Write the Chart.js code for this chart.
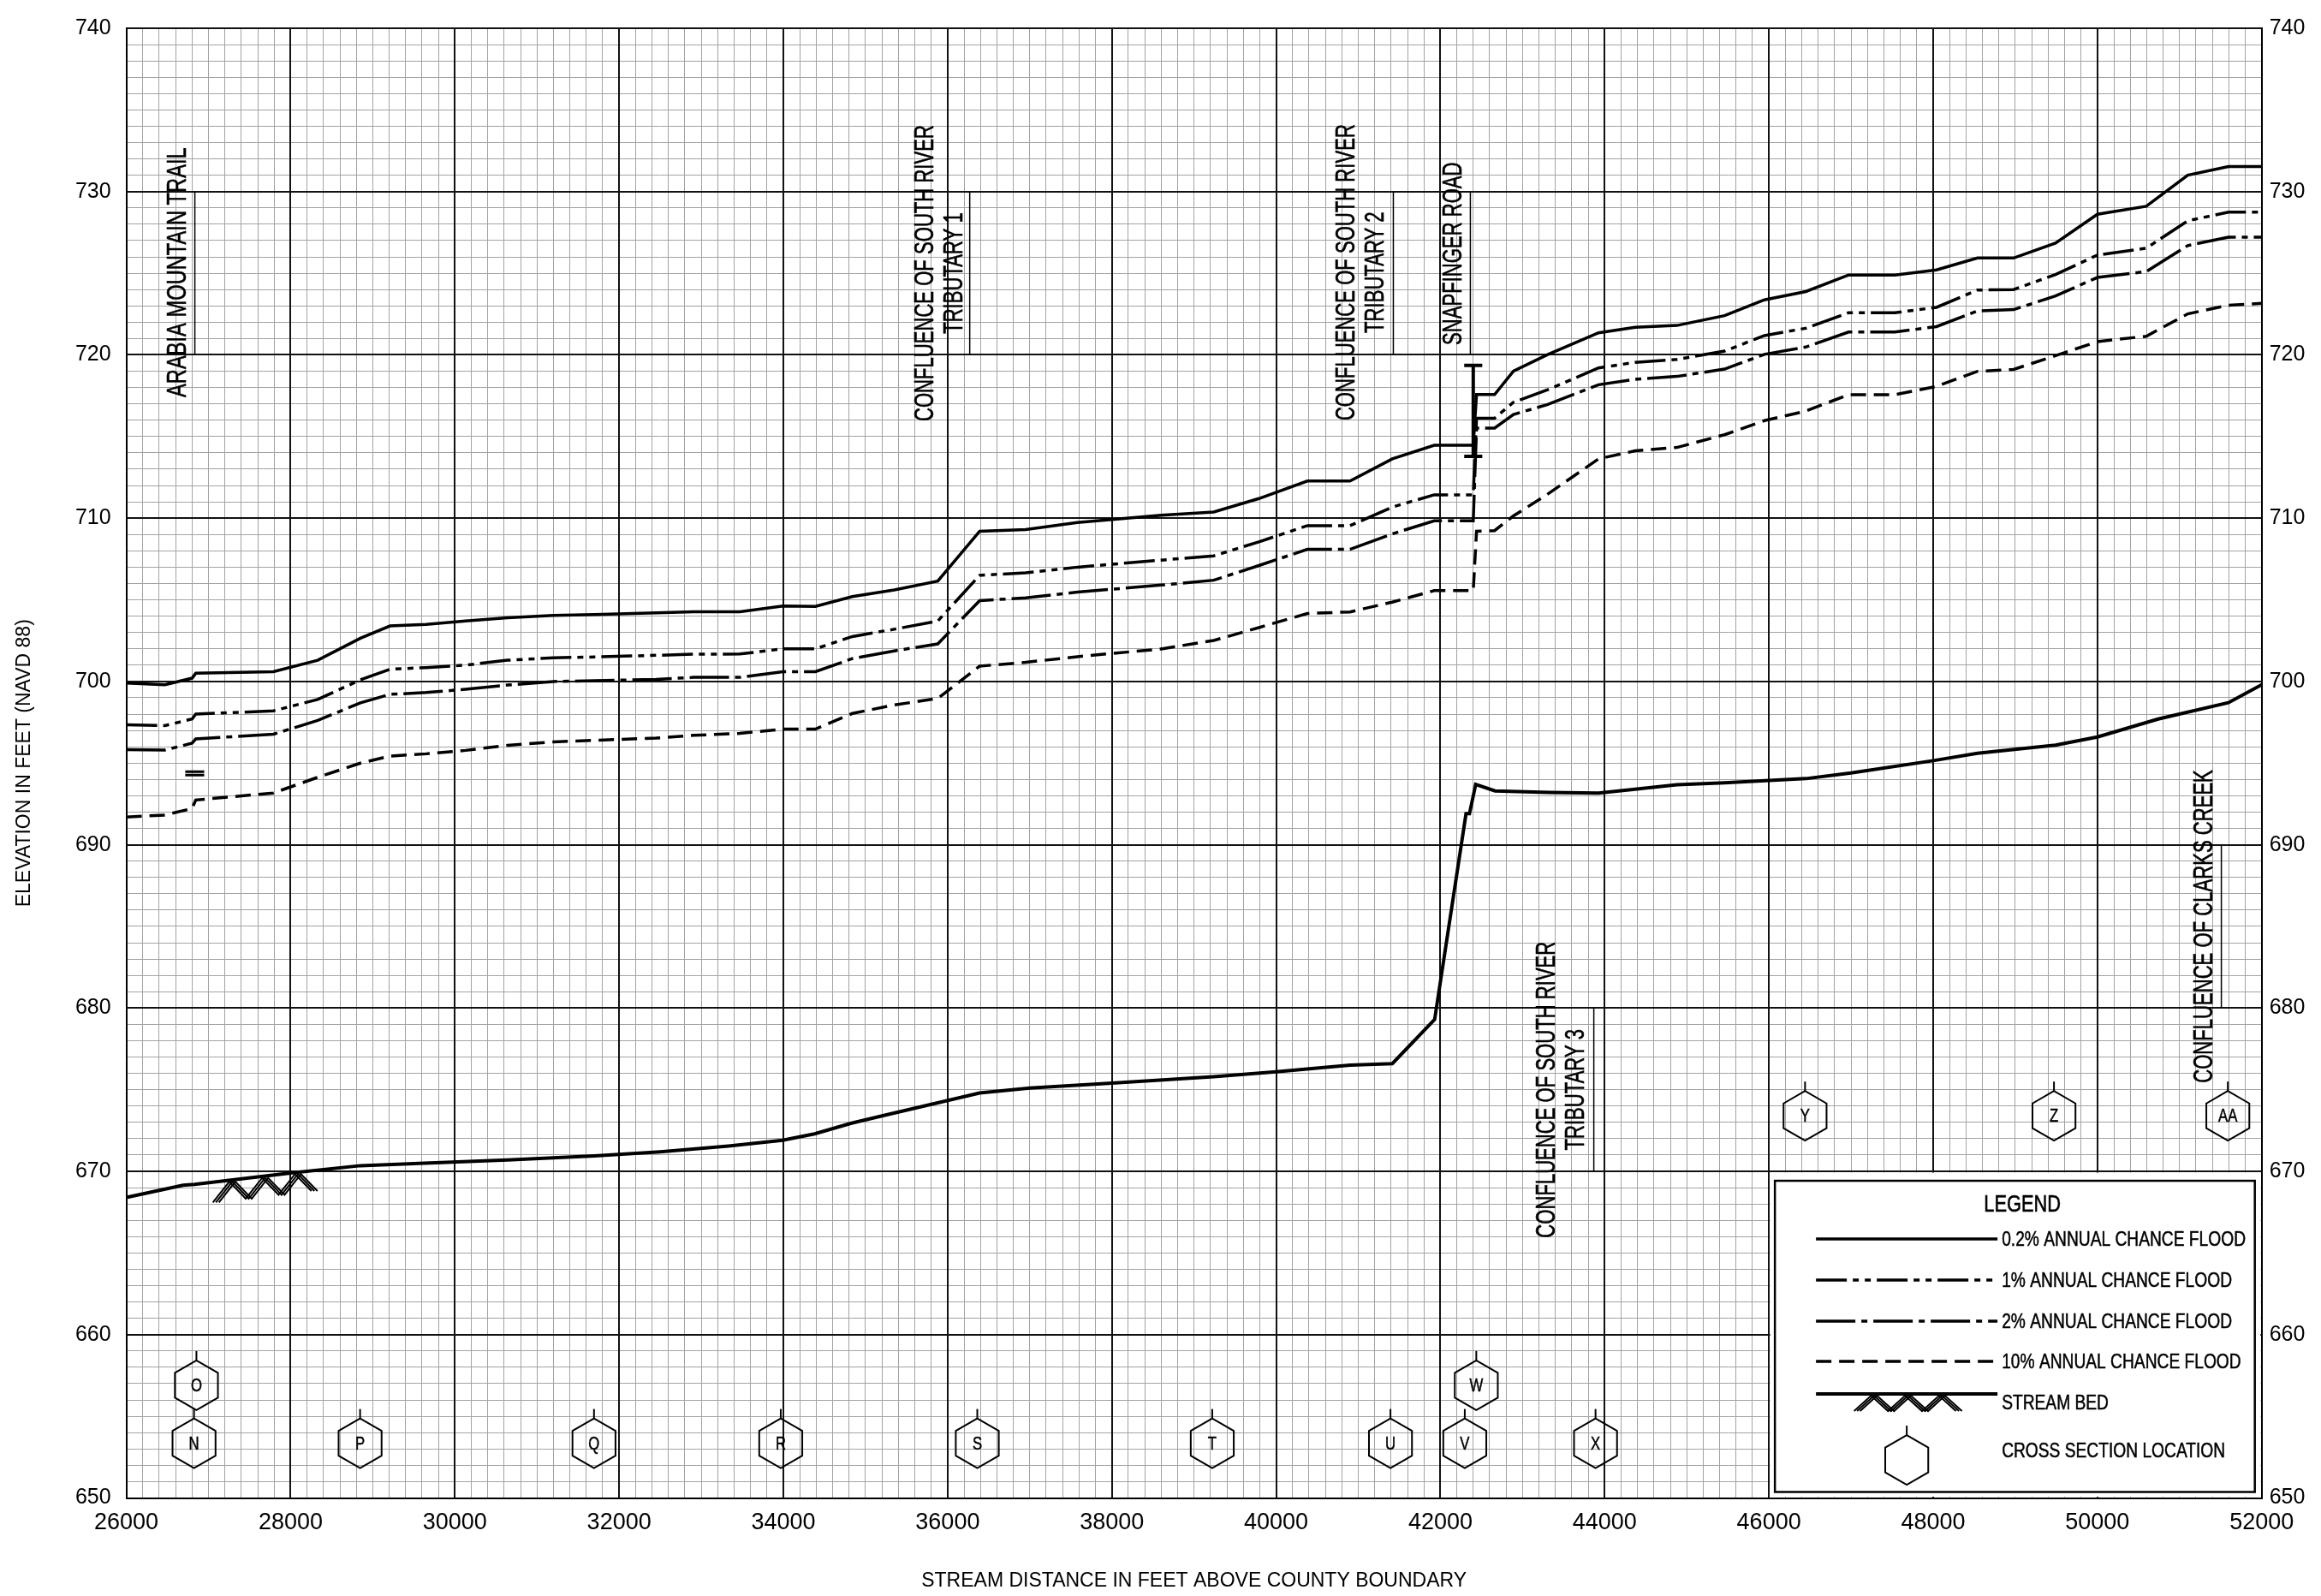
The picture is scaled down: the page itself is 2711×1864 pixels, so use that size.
<!DOCTYPE html>
<html>
<head>
<meta charset="utf-8">
<script src="https://cdn.jsdelivr.net/npm/chart.js@4.4.1/dist/chart.umd.min.js"></script>
<style>
  html, body { margin: 0; padding: 0; background: #fff; }
</style>
</head>
<body>
<canvas id="profile" width="2711" height="1864"></canvas>
<script>
// ---------------------------------
// Profile data (stream distance ft / elevation ft)
// ---------------------------------
const floodStations = [26000, 26470, 26800, 26845, 27790, 28330, 28850, 29210, 29650, 30130,
  30640, 31200, 31700, 32450, 32910, 33470, 33995, 34390, 34840, 35350,
  35880, 36390, 36950, 37580, 38600, 39240, 39790, 40380, 40900, 41415,
  41925, 42400, 42440, 42660, 42890, 43300, 43925, 44370, 44880, 45460,
  45945, 46450, 46970, 47535, 48040, 48540, 48980, 49490, 50000, 50595,
  51100, 51595, 52000];
const flood02 = [699.9, 699.8, 700.2, 700.5, 700.6, 701.3, 702.65, 703.4, 703.5, 703.7,
  703.9, 704.05, 704.1, 704.2, 704.27, 704.27, 704.62, 704.6, 705.2, 705.6,
  706.15, 709.2, 709.3, 709.73, 710.18, 710.38, 711.2, 712.27, 712.27, 713.63,
  714.46, 714.46, 717.57, 717.57, 719.0, 720.0, 721.35, 721.69, 721.8, 722.4,
  723.37, 723.88, 724.89, 724.89, 725.2, 725.93, 725.93, 726.84, 728.61, 729.1,
  731.0, 731.53, 731.53];
const flood1 = [697.35, 697.3, 697.7, 698.0, 698.2, 698.9, 700.1, 700.75, 700.85, 701.0,
  701.3, 701.45, 701.5, 701.6, 701.67, 701.68, 702.0, 702.0, 702.75, 703.2,
  703.7, 706.5, 706.65, 707.0, 707.43, 707.69, 708.55, 709.54, 709.54, 710.68,
  711.43, 711.43, 716.12, 716.12, 717.1, 717.85, 719.2, 719.54, 719.72, 720.23,
  721.18, 721.63, 722.58, 722.58, 722.91, 723.97, 724.0, 724.92, 726.11, 726.53,
  728.21, 728.74, 728.74];
const flood2 = [695.82, 695.8, 696.22, 696.48, 696.77, 697.61, 698.69, 699.21, 699.32, 699.52,
  699.78, 700.0, 700.05, 700.13, 700.25, 700.25, 700.6, 700.6, 701.4, 701.87,
  702.3, 704.95, 705.12, 705.47, 705.9, 706.2, 707.1, 708.09, 708.09, 709.04,
  709.84, 709.84, 715.52, 715.52, 716.35, 716.95, 718.17, 718.5, 718.68, 719.13,
  720.03, 720.48, 721.4, 721.4, 721.73, 722.69, 722.77, 723.61, 724.74, 725.1,
  726.69, 727.21, 727.21];
const flood10 = [691.7, 691.82, 692.22, 692.74, 693.17, 694.13, 695.0, 695.43, 695.57, 695.78,
  696.09, 696.3, 696.4, 696.53, 696.7, 696.82, 697.08, 697.08, 698.04, 698.56,
  698.96, 700.94, 701.17, 701.52, 701.99, 702.51, 703.3, 704.16, 704.26, 704.86,
  705.56, 705.56, 709.2, 709.24, 710.14, 711.45, 713.63, 714.12, 714.33, 715.11,
  715.97, 716.56, 717.56, 717.56, 718.07, 718.99, 719.11, 719.95, 720.81, 721.14,
  722.51, 723.04, 723.15];

const bedStations = [26000, 26690, 26830, 28000, 28850, 29630, 30640, 31700, 32500, 33330,
  33990, 34380, 34830, 35290, 36390, 37000, 38000, 39240, 40000, 40900,
  41415, 41930, 42312, 42354, 42430, 42665, 43324, 43925, 44370, 44880,
  45460, 46450, 47000, 48000, 48540, 49490, 50000, 50740, 51595, 52000];
const bedElev = [668.4, 669.15, 669.2, 669.9, 670.35, 670.5, 670.7, 670.95, 671.2, 671.55,
  671.9, 672.3, 672.95, 673.5, 674.8, 675.1, 675.4, 675.8, 676.1, 676.5,
  676.6, 679.3, 691.9, 691.9, 693.7, 693.3, 693.2, 693.17, 693.4, 693.67,
  693.8, 694.05, 694.4, 695.15, 695.6, 696.1, 696.6, 697.7, 698.7, 699.8];

// Snapfinger Road deck (top of road / low chord), null = pen up
const bridgeStations = [42290, 42510, 42510, 42400, 42400, 42400, 42290, 42510];
const bridgeElev = [719.36, 719.36, null, 719.36, 713.78, null, 713.78, 713.78];
// small structure mark near Arabia Mountain Trail
const trailStations = [26717, 26948, 26948, 26717, 26948];
const trailElev = [694.47, 694.47, null, 694.26, 694.26];

// location brackets for the labelled features
const markerStations = [26834, 36269, 41427, 42365, 43868, 51509];
const markerLow = [720, 720, 720, 720, 670, 680];
const markerHigh = [730, 730, 730, 730, 680, 690];

const placeLabels = [
  { lines: ['ARABIA MOUNTAIN TRAIL'], station: 26628, elev: 725.05, squeeze: 0.74 },
  { lines: ['CONFLUENCE OF SOUTH RIVER', 'TRIBUTARY 1'], station: 35910, elev: 725.0 },
  { lines: ['CONFLUENCE OF SOUTH RIVER', 'TRIBUTARY 2'], station: 41036, elev: 725.05 },
  { lines: ['SNAPFINGER ROAD'], station: 42161, elev: 726.2 },
  { lines: ['CONFLUENCE OF SOUTH RIVER', 'TRIBUTARY 3'], station: 43474, elev: 675.0 },
  { lines: ['CONFLUENCE OF CLARKS CREEK'], station: 51302, elev: 685.0 },
];

// cross section symbols
const xsLetters = ['N', 'O', 'P', 'Q', 'R', 'S', 'T', 'U', 'V', 'W', 'X', 'Y', 'Z', 'AA'];
const xsStations = [26824, 26853, 28846, 31694, 33968, 36361, 39222, 41392, 42297, 42437, 43889, 46440, 49471, 51588];
const xsElev = [653.35, 656.9, 653.35, 653.35, 653.35, 653.35, 653.35, 653.35, 653.35, 656.9, 653.35, 673.4, 673.4, 673.4];

// axis ranges
const xMin = 26000, xMax = 52000, xMajor = 2000, xMinor = 200;
const yMin = 650, yMax = 740, yMajor = 10, yMinor = 1;

// -------------------------------
// Helpers -----------------------
// -------------------------------
const pts = (xs, ys) => xs.map((x, i) => ({ x: x, y: ys[i] }));
const TICK_FONT = '"Liberation Sans", Arial, sans-serif';
const dash1 = [36, 7, 7, 7, 7, 7];
const dash2 = [46, 7, 7, 7];
const dash10 = [18, 9];

function lineSet(label, data, width, dash) {
  return {
    label: label,
    data: data,
    borderColor: "#000",
    borderWidth: width,
    borderDash: dash || [],
    pointRadius: 0,
    fill: false,
    tension: 0,
    spanGaps: false,
  };
}

// condensed-looking text: squeeze the glyphs horizontally, add a hairline for weight
function drawSqueezed(ctx, text, x, y, size, squeeze, vertical, weight) {
  ctx.save();
  ctx.translate(x, y);
  if (vertical) ctx.rotate(-Math.PI / 2);
  ctx.scale(squeeze, 1);
  ctx.font = size + 'px "Liberation Sans", Arial, sans-serif';
  ctx.fillText(text, 0, 0);
  if (weight) {
    ctx.lineWidth = weight;
    ctx.strokeText(text, 0, 0);
  }
  ctx.restore();
}

function hexagon(ctx, cx, cy, r) {
  ctx.beginPath();
  for (let i = 0; i < 6; i++) {
    const a = Math.PI / 2 + i * Math.PI / 3;
    ctx.lineTo(cx + r * Math.cos(a), cy - r * Math.sin(a));
  }
  ctx.closePath();
  ctx.stroke();
  ctx.beginPath();
  ctx.moveTo(cx, cy - r);
  ctx.lineTo(cx, cy - r - 11);
  ctx.stroke();
}

// stream bed hatch: three chevrons, each drawn with three parallel strokes
function zigzag(ctx, x0, y0, x1, y1, teeth, depth) {
  ctx.lineWidth = 2;
  for (let k = 0; k < 3; k++) {
    ctx.beginPath();
    for (let i = 0; i <= teeth * 2; i++) {
      const t = i / (teeth * 2);
      const px = x0 + (x1 - x0) * t + (k - 1) * 3.5;
      const py = y0 + (y1 - y0) * t + (i % 2 === 0 ? depth : 0);
      ctx.lineTo(px, py);
    }
    ctx.stroke();
  }
}

function bedAt(d) {
  for (let i = 1; i < bedStations.length; i++) {
    if (d <= bedStations[i]) {
      const t = (d - bedStations[i - 1]) / (bedStations[i] - bedStations[i - 1]);
      return bedElev[i - 1] + t * (bedElev[i] - bedElev[i - 1]);
    }
  }
  return bedElev[bedElev.length - 1];
}

// -------------------------------
// Annotations, symbols, legend --
// -------------------------------
const profileDecor = {
  id: "profileDecor",
  beforeDraw(chart) {
    const ctx = chart.ctx;
    ctx.save();
    ctx.fillStyle = "#fff";
    ctx.fillRect(0, 0, chart.width, chart.height);
    ctx.restore();
  },
  afterDatasetsDraw(chart) {
    const { ctx, chartArea } = chart;
    const x = chart.scales.x, y = chart.scales.y;
    ctx.save();
    ctx.fillStyle = "#000";
    ctx.strokeStyle = "#000";
    ctx.textAlign = "center";
    ctx.textBaseline = "middle";

    // feature labels
    placeLabels.forEach(l => {
      const px = x.getPixelForValue(l.station), py = y.getPixelForValue(l.elev);
      const n = l.lines.length;
      l.lines.forEach((t, i) => {
        drawSqueezed(ctx, t, px + (i - (n - 1) / 2) * 34, py, 32, l.squeeze || 0.69, true, 0.6);
      });
    });

    // stream bed hatch
    const h0 = 27090, h1 = 28290;
    zigzag(ctx, x.getPixelForValue(h0), y.getPixelForValue(bedAt(h0)) + 2,
      x.getPixelForValue(h1), y.getPixelForValue(bedAt(h1)) + 2, 3, 22);

    // cross sections
    xsLetters.forEach((ltr, i) => {
      const cx = x.getPixelForValue(xsStations[i]), cy = y.getPixelForValue(xsElev[i]);
      ctx.lineWidth = 2;
      hexagon(ctx, cx, cy, 29);
      drawSqueezed(ctx, ltr, cx, cy + 1, 22, 0.76, false, 0.5);
    });

    // legend
    const left = x.getPixelForValue(46000), top = y.getPixelForValue(670);
    ctx.fillStyle = "#fff";
    ctx.fillRect(left + 1.5, top + 1.5, chartArea.right - left - 3, chartArea.bottom - top - 3);
    const bx = left + 7, by = top + 11;
    const bw = chartArea.right - 8 - bx, bh = chartArea.bottom - 7 - by;
    ctx.lineWidth = 2.5;
    ctx.strokeRect(bx, by, bw, bh);
    ctx.fillStyle = "#000";
    drawSqueezed(ctx, "LEGEND", bx + 289, by + 28, 28, 0.78, false, 0.6);

    const sets = chart.data.datasets;
    const rowY = [68, 116, 164, 211];
    ctx.textAlign = "left";
    for (let i = 0; i < 4; i++) {
      const ds = sets[i];
      ctx.beginPath();
      ctx.setLineDash(ds.borderDash);
      ctx.lineWidth = ds.borderWidth;
      ctx.moveTo(bx + 48, by + rowY[i]);
      ctx.lineTo(bx + 260, by + rowY[i]);
      ctx.stroke();
      ctx.setLineDash([]);
      drawSqueezed(ctx, ds.label, bx + 265, by + rowY[i] + 1, 24, 0.8, false, 0.5);
    }
    // stream bed key
    ctx.lineWidth = 4;
    ctx.beginPath();
    ctx.moveTo(bx + 48, by + 249);
    ctx.lineTo(bx + 260, by + 249);
    ctx.stroke();
    zigzag(ctx, bx + 96, by + 251, bx + 215, by + 251, 3, 18);
    drawSqueezed(ctx, sets[4].label, bx + 265, by + 260, 24, 0.8, false, 0.5);
    // cross section key
    ctx.lineWidth = 2;
    hexagon(ctx, bx + 154, by + 326, 29);
    drawSqueezed(ctx, "CROSS SECTION LOCATION", bx + 265, by + 316, 24, 0.8, false, 0.5);

    ctx.restore();
  },
};

// -------------------------------
// Grid helpers ------------------
// -------------------------------
const minorGrid = {
  color: "#a3a3a3",
  lineWidth: 1,
  drawTicks: false,
  z: -2,
};
const majorGrid = {
  color: "#111",
  lineWidth: 2,
  drawTicks: false,
  z: -1,
};

// -------------------------------
// Profile chart -----------------
// -------------------------------
const markerSets = markerStations.map((s, i) => ({
  label: "marker",
  data: [{ x: s, y: markerLow[i] }, { x: s, y: markerHigh[i] }],
  borderColor: "#000",
  borderWidth: 1.5,
  pointRadius: 0,
  fill: false,
}));

const profileChart = new Chart(document.getElementById("profile"), {
  type: "line",
  data: {
    datasets: [
      lineSet("0.2% ANNUAL CHANCE FLOOD", pts(floodStations, flood02), 3.5),
      lineSet("1% ANNUAL CHANCE FLOOD", pts(floodStations, flood1), 3.5, dash1),
      lineSet("2% ANNUAL CHANCE FLOOD", pts(floodStations, flood2), 3.5, dash2),
      lineSet("10% ANNUAL CHANCE FLOOD", pts(floodStations, flood10), 3.5, dash10),
      lineSet("STREAM BED", pts(bedStations, bedElev), 4),
      lineSet("bridge", pts(bridgeStations, bridgeElev), 4),
      lineSet("structure", pts(trailStations, trailElev), 3),
      ...markerSets,
    ],
  },
  options: {
    responsive: false,
    animation: false,
    devicePixelRatio: 1,
    layout: { padding: { top: 24, left: 0, right: 0, bottom: 0 } },
    plugins: { legend: { display: false }, tooltip: { enabled: false } },
    events: [],
    scales: {
      xMinor: {
        type: "linear",
        axis: "x",
        position: "bottom",
        min: xMin,
        max: xMax,
        grid: minorGrid,
        border: { display: false },
        ticks: { stepSize: xMinor, autoSkip: false, display: false },
        afterFit: (s) => { s.height = 0; },
      },
      yMinor: {
        type: "linear",
        axis: "y",
        position: "left",
        min: yMin,
        max: yMax,
        grid: minorGrid,
        border: { display: false },
        ticks: { stepSize: yMinor, autoSkip: false, display: false },
        afterFit: (s) => { s.width = 0; },
      },
      x: {
        type: "linear",
        position: "bottom",
        min: xMin,
        max: xMax,
        grid: majorGrid,
        border: { color: "#000", width: 2 },
        ticks: {
          stepSize: xMajor,
          autoSkip: false,
          maxRotation: 0,
          minRotation: 0,
          padding: 13,
          color: "#000",
          font: { family: TICK_FONT, size: 27 },
          callback: (v) => String(v),
        },
        title: {
          display: true,
          text: "STREAM DISTANCE IN FEET ABOVE COUNTY BOUNDARY",
          color: "#000",
          font: { family: TICK_FONT, size: 23 },
          padding: { top: 0, bottom: 4 },
        },
        afterFit: (s) => { s.height = 114.5; },
      },
      y: {
        type: "linear",
        position: "left",
        min: yMin,
        max: yMax,
        grid: majorGrid,
        border: { color: "#000", width: 2 },
        ticks: {
          stepSize: yMajor,
          autoSkip: false,
          padding: 18,
          color: "#000",
          font: { family: TICK_FONT, size: 25 },
          callback: (v) => String(v),
        },
        title: {
          display: true,
          text: "ELEVATION IN FEET (NAVD 88)",
          color: "#000",
          font: { family: TICK_FONT, size: 23 },
          padding: { top: 15, bottom: 0 },
        },
        afterFit: (s) => { s.width = 147.6; },
      },
      yRight: {
        type: "linear",
        position: "right",
        min: yMin,
        max: yMax,
        grid: { display: false, drawTicks: false },
        border: { color: "#000", width: 2 },
        ticks: {
          stepSize: yMajor,
          autoSkip: false,
          padding: 9,
          color: "#000",
          font: { family: TICK_FONT, size: 25 },
          callback: (v) => String(v),
        },
        afterFit: (s) => { s.width = 69.3; },
      },
    },
  },
  plugins: [profileDecor],
});
</script>
</body>
</html>
